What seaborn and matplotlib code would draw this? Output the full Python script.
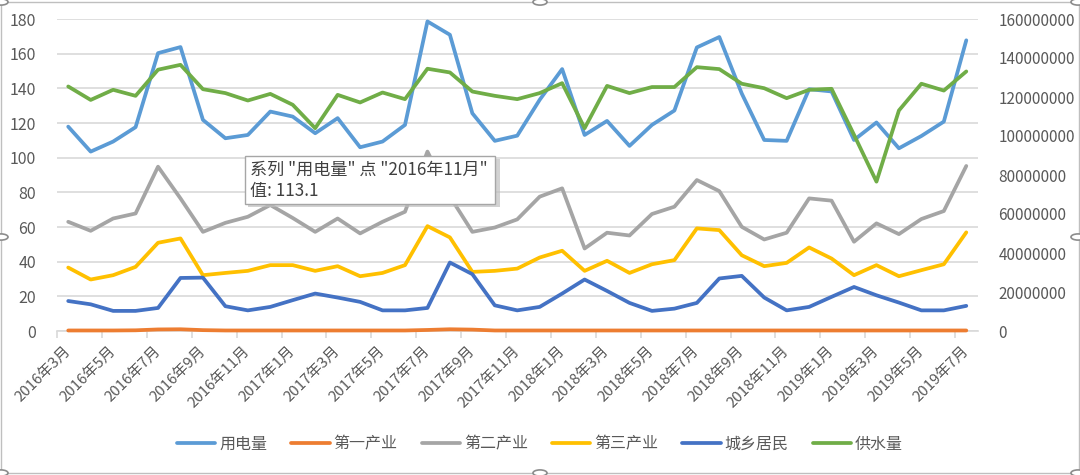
import numpy as np
import matplotlib
matplotlib.use("Agg")
import matplotlib.pyplot as plt
import matplotlib.ticker as mticker
from matplotlib.patches import Rectangle, Circle
import seaborn as sns

# 2016年3月 .. 2019年7月
months = [f"{y}年{m}月" for y, m in
          [(2016, m) for m in range(3, 13)] + [(2017, m) for m in range(1, 13)]
          + [(2018, m) for m in range(1, 13)] + [(2019, m) for m in range(1, 8)]]

power = [117.9, 103.5, 109.3, 117.6, 160.3, 163.8, 121.8, 111.2, 113.1, 126.6,
         123.7, 114.1, 122.8, 106.0, 109.3, 118.9, 178.6, 170.9, 125.6, 109.7,
         112.7, 133.4, 151.1, 113.1, 121.2, 106.8, 118.9, 127.2, 163.6, 169.6,
         137.0, 110.2, 109.7, 139.5, 138.2, 110.2, 120.3, 105.4, 112.5, 120.8,
         167.7]
primary = [0.3, 0.3, 0.3, 0.4, 0.9, 1.0, 0.5, 0.3, 0.3, 0.3,
           0.3, 0.3, 0.3, 0.3, 0.3, 0.3, 0.6, 1.0, 0.8, 0.3,
           0.3, 0.3, 0.3, 0.3, 0.3, 0.3, 0.3, 0.3, 0.3, 0.3,
           0.3, 0.3, 0.3, 0.3, 0.3, 0.3, 0.3, 0.3, 0.3, 0.3,
           0.3]
secondary = [63.0, 57.8, 64.9, 67.8, 94.8, 76.5, 57.2, 62.4, 65.9, 72.7,
             65.2, 57.2, 64.9, 56.3, 63.0, 68.8, 103.5, 77.6, 57.2, 59.7,
             64.4, 77.5, 82.3, 47.6, 56.7, 55.1, 67.5, 71.7, 87.1, 80.7,
             60.1, 52.8, 56.7, 76.5, 75.2, 51.5, 62.1, 55.9, 64.6, 69.2,
             95.2]
tertiary = [36.6, 29.7, 32.2, 37.0, 50.9, 53.4, 32.2, 33.5, 34.7, 38.0,
            38.0, 34.7, 37.4, 31.6, 33.5, 38.0, 60.5, 54.0, 34.1, 34.7,
            36.0, 42.4, 46.3, 34.7, 40.5, 33.5, 38.5, 40.9, 59.2, 58.2,
            43.7, 37.4, 39.3, 48.2, 41.8, 32.2, 38.0, 31.6, 35.1, 38.5,
            56.9]
resident = [17.3, 15.4, 11.6, 11.6, 13.3, 30.6, 30.8, 14.3, 11.9, 13.9,
            17.8, 21.6, 19.3, 16.8, 11.9, 11.9, 13.3, 39.5, 32.8, 14.8,
            11.9, 13.9, 21.6, 29.7, 23.1, 16.2, 11.6, 12.9, 16.2, 30.3,
            31.8, 19.3, 11.9, 13.9, 19.7, 25.4, 20.6, 16.4, 11.9, 11.9,
            14.5]
water = [125400000, 118500000, 123700000, 120600000, 134000000, 136500000,
         124000000, 122000000, 118200000, 121600000, 116000000, 104000000,
         121100000, 117200000, 122300000, 118900000, 134500000, 132600000,
         122800000, 120600000, 118900000, 122000000, 127100000, 104000000,
         125700000, 122000000, 125100000, 125100000, 135300000, 134300000,
         126800000, 124500000, 119400000, 123700000, 124200000, 100600000,
         76600000, 113100000, 126800000, 123300000, 133100000]

left_series = [("用电量", power, "#5B9BD5"),
               ("第一产业", primary, "#ED7D31"),
               ("第二产业", secondary, "#A5A5A5"),
               ("第三产业", tertiary, "#FFC000"),
               ("城乡居民", resident, "#4472C4")]

sns.set_theme(style="white")
plt.rcParams["font.family"] = ["Noto Sans CJK SC", "DejaVu Sans"]
txt = "#595959"
grid_c = "#d9d9d9"

fig = plt.figure(figsize=(10.8, 4.75), dpi=100)
ax = fig.add_axes([57 / 1080, 1 - 331 / 475, (977.5 - 57) / 1080, (331 - 19) / 475])
x = np.arange(len(months))
lw = 2.7
line_kw = dict(solid_joinstyle="round", solid_capstyle="round", clip_on=False)

for name, vals, col in left_series:
    sns.lineplot(x=x, y=vals, ax=ax, color=col, linewidth=lw, label=name, **line_kw)

ax2 = ax.twinx()
sns.lineplot(x=x, y=water, ax=ax2, color="#70AD47", linewidth=lw, label="供水量", **line_kw)

ax.set_xlim(-0.5, len(months) - 0.5)
ax.set_ylim(0, 180)
ax.set_yticks(range(0, 181, 20))
ax2.set_ylim(0, 160000000)
ax2.set_yticks(range(0, 160000001, 20000000))
ax2.yaxis.set_major_formatter(mticker.FuncFormatter(lambda v, p: f"{int(v)}"))

ax.grid(axis="y", color=grid_c, linewidth=1.2)
ax.set_axisbelow(True)
ax2.grid(False)
for a in (ax, ax2):
    for s in a.spines.values():
        s.set_visible(False)
ax.spines["bottom"].set_visible(True)
ax.spines["bottom"].set_color(grid_c)
ax.spines["bottom"].set_linewidth(1.2)
ax.spines["bottom"].set_zorder(0.5)

ax.set_xticks(x[::2])
ax.set_xticklabels(months[::2], rotation=45, ha="right", va="center",
                   rotation_mode="anchor")
ax.set_xticks(np.arange(-0.5, len(months), 2), minor=True)
ax.tick_params(axis="x", which="major", length=0, pad=13, labelsize=10.8, colors=txt)
ax.tick_params(axis="x", which="minor", length=5, width=1.2, color=grid_c, bottom=True)
ax.tick_params(axis="y", length=0, pad=15, labelsize=11.5, colors=txt)
ax2.tick_params(axis="y", length=0, pad=15, labelsize=11, colors=txt)
ax.set_xlabel("")
ax.set_ylabel("")
ax2.set_ylabel("")

h1, l1 = ax.get_legend_handles_labels()
h2, l2 = ax2.get_legend_handles_labels()
ax.get_legend().remove()
ax2.get_legend().remove()
fig.legend(h1 + h2, l1 + l2, loc="center", bbox_to_anchor=(0.5, 1 - 444 / 475),
           ncol=6, frameon=False, fontsize=11.5, handlelength=2.4, handletextpad=0.25,
           columnspacing=1.5, labelcolor=txt)

# tooltip
px = lambda v: v / 1080
py = lambda v: 1 - v / 475
fig.patches.append(Rectangle((px(248), py(207)), px(497) - px(245), py(156) - py(204),
                             transform=fig.transFigure, facecolor="#bfbfbf",
                             edgecolor="none", alpha=0.7, zorder=9))
fig.patches.append(Rectangle((px(245), py(204)), px(495) - px(245), py(156) - py(204),
                             transform=fig.transFigure, facecolor="white",
                             edgecolor="#a6a6a6", linewidth=1, zorder=10))
fig.text(px(250), py(170), '系列 "用电量" 点 "2016年11月"', fontsize=12.3, color="#404040",
         va="center", ha="left", zorder=11)
fig.text(px(250), py(191), "值: 113.1", fontsize=12.3, color="#404040",
         va="center", ha="left", zorder=11)

# chart selection frame
fig.patches.append(Rectangle((px(1), py(473)), px(1078), py(2) - py(473),
                             transform=fig.transFigure, facecolor="none",
                             edgecolor="#bfbfbf", linewidth=1))
for cx, cy in [(1, 2), (540, 2), (1078, 2), (1, 237), (1078, 237),
               (1, 473), (540, 473), (1078, 473)]:
    fig.patches.append(Circle((px(cx), py(cy)), 0.0065, transform=fig.transFigure,
                              facecolor="white", edgecolor="#8c8c8c", linewidth=1.2))

fig.savefig("out.png", dpi=100)
